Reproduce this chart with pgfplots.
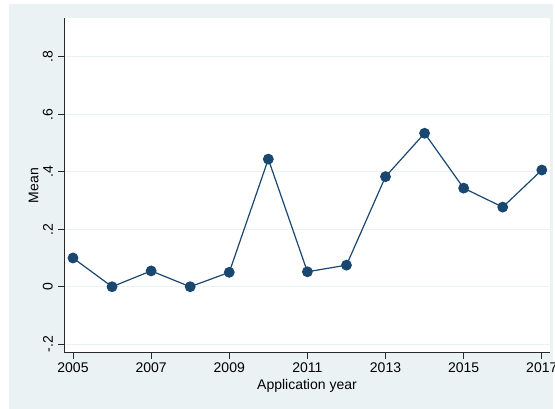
\documentclass[border=0pt]{standalone}
\usepackage{pgfplots}
\pgfplotsset{compat=1.18}
\usepackage{fontspec}
\setmainfont{Liberation Sans}

\definecolor{regionbg}{RGB}{234,242,243}
\definecolor{gridc}{RGB}{234,242,243}
\definecolor{navy}{RGB}{26,71,111}
\definecolor{axisc}{RGB}{40,40,40}

\pgfplotstableread{
year mean
2005 0.100
2006 0.000
2007 0.055
2008 0.000
2009 0.050
2010 0.444
2011 0.052
2012 0.075
2013 0.383
2014 0.534
2015 0.343
2016 0.277
2017 0.406
}\meandata

\begin{document}
\begin{tikzpicture}
\useasboundingbox (0,0) rectangle (555pt,-409pt);
\fill[white] (0,0) rectangle (555pt,-409pt);
\fill[regionbg] (9pt,-4pt) rectangle (553pt,-409pt);
\begin{axis}[
  at={(64pt,-352.7pt)}, anchor=south west,
  scale only axis,
  width=486pt, height=334.4pt,
  xmin=2004.77, xmax=2017.21,
  ymin=-0.2296, ymax=0.934,
  axis background/.style={fill=white},
  axis x line*=bottom, axis y line*=left,
  axis line style={axisc, line width=0.9pt},
  xtick={2005,2007,...,2017},
  xticklabels={2005,2007,2009,2011,2013,2015,2017},
  ytick={-0.2,0,0.2,0.4,0.6,0.8},
  yticklabels={-.2,0,.2,.4,.6,.8},
  tick align=outside,
  major tick length=6pt,
  tick style={axisc, line width=0.8pt},
  ymajorgrids,
  major grid style={gridc, line width=1pt},
  ticklabel style={font=\fontsize{14pt}{16pt}\selectfont, text=black},
  yticklabel style={inner sep=0pt, xshift=-5pt, rotate=90, anchor=south},
  xticklabel style={anchor=north, inner sep=0pt},
  xticklabel shift=4pt,
  xlabel={Application year},
  ylabel={Mean},
  label style={font=\fontsize{14pt}{16pt}\selectfont},
  xlabel style={at={(0.5,0)}, anchor=north, yshift=-23pt},
  ylabel style={at={(0,0.5)}, anchor=south, rotate=0, yshift=22pt},
  clip=false,
]
\addplot[navy, line width=1.2pt, mark=*, mark size=4.8pt,
  mark options={fill=navy, draw=navy}]
  table[x=year, y=mean] {\meandata};
\end{axis}
\end{tikzpicture}
\end{document}
